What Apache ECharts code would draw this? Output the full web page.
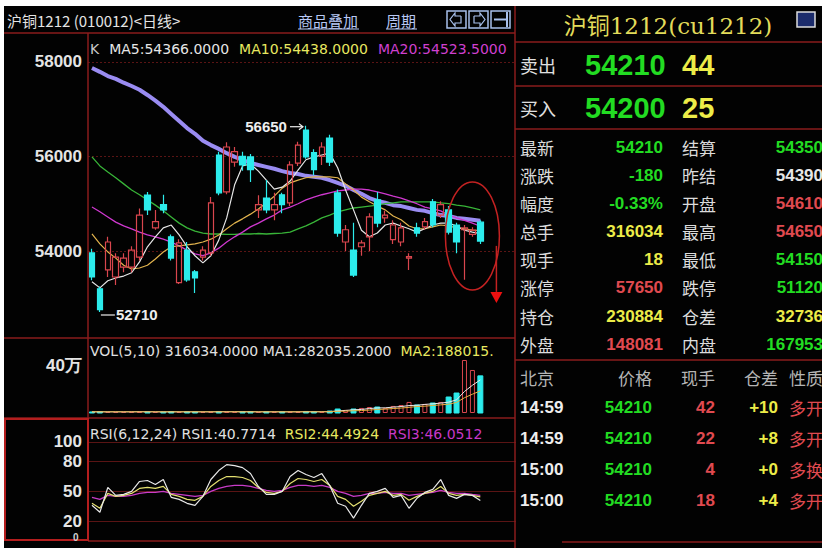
<!DOCTYPE html>
<html><head><meta charset="utf-8">
<script src="https://cdn.jsdelivr.net/npm/echarts@6/dist/echarts.min.js"></script>
<style>
html,body{margin:0;padding:0;background:#fff;}
#bg{position:absolute;left:4px;top:6px;width:818px;height:542px;background:#020202;}
#c{position:absolute;left:0;top:0;width:822px;height:548px;}
</style></head><body><div id="bg"></div><div id="c"></div>
<script>
// ---------- data ----------
const days = ['1','2','3','4','5','6','7','8','9','10','11','12','13','14','15','16','17','18','19','20','21','22','23','24','25','26','27','28','29','30','31','32','33','34','35','36','37','38','39','40','41','42','43','44','45','46','47','48','49','50'];
const padSlots = ['', '', '', ''];
// [open, close, low, high]
const candles = [
 [53960,53450,53380,54050],[53200,52760,52710,53250],[53600,54190,53450,54300],[53450,53870,53280,53950],
 [53660,53850,53550,53950],[53660,54020,53550,54100],[53870,54760,53800,54900],[55185,54870,54760,55250],
 [54490,54620,54450,54870],[54980,54870,54800,55190],[54300,53850,53800,54350],[53330,54170,53300,54250],
 [54020,53390,53350,54190],[53560,53430,53110,53600],[53870,54020,53800,54100],[53960,55020,53900,55140],
 [56030,55230,55180,56100],[55250,56200,55200,56300],[55880,56100,55780,56200],[56000,55820,55700,56100],
 [55990,55720,55460,56050],[54870,54980,54700,55180],[55120,54870,54800,55500],[54870,54980,54650,55230],
 [55190,54980,54800,55230],[55020,55820,54950,55900],[55860,56240,55800,56310],[56560,55990,55950,56650],
 [56080,55720,55600,56150],[56000,56200,55820,56300],[56390,55880,55800,56460],[55230,54380,54300,55300],
 [54190,54450,54000,54550],[54020,53490,53450,54600],[54090,54170,53900,54230],[54300,54720,54000,54800],
 [55080,54590,54500,55250],[54700,54760,54600,54850],[54240,54550,54150,54650],[54190,54490,54100,54600],
 [53850,53880,53600,53950],[54490,54380,54300,54600],[54510,54620,54450,54700],[55040,54550,54500,55100],
 [54760,54980,54700,55050],[54870,54400,54350,54950],[54550,54190,53950,54600],[54450,54490,53390,54550],
 [54350,54440,54300,54500],[54610,54210,54150,54650]
];
const ma5  = [53350,53220,53370,53430,53470,53540,53770,54090,54300,54490,54550,54340,54090,53900,53750,53900,54230,54700,55400,55800,55840,55690,55500,55310,55350,55480,55710,55930,55990,56030,56070,55760,55290,54870,54440,54300,54380,54550,54590,54530,54470,54400,54470,54550,54590,54590,54530,54440,54400,54366];
const ma10 = [54360,54150,53980,53850,53700,53620,53640,53700,53830,53980,54090,54110,54130,54150,54190,54250,54340,54470,54590,54680,54780,54890,55020,55160,55330,55440,55500,55550,55570,55570,55570,55550,55420,55290,55140,55040,54950,54870,54740,54660,54530,54470,54470,54510,54550,54530,54490,54470,54440,54438];
const ma20 = [54930,54830,54720,54610,54530,54470,54400,54340,54300,54250,54190,54110,54020,53940,53900,53960,54060,54190,54300,54400,54510,54590,54680,54760,54870,54930,55000,55080,55140,55190,55230,55270,55290,55310,55310,55290,55250,55210,55160,55120,55060,55000,54930,54890,54850,54760,54700,54650,54590,54524];
const ma40 = [55990,55800,55670,55550,55420,55290,55190,55080,54970,54850,54720,54590,54490,54420,54380,54360,54360,54350,54350,54360,54360,54370,54360,54370,54380,54400,54470,54530,54610,54700,54760,54830,54870,54910,54930,54950,54970,55000,55020,55040,55040,55040,55040,55040,55020,55000,54970,54950,54910,54870];
const ma60 = [57870,57790,57700,57640,57560,57490,57410,57300,57180,57050,56900,56750,56600,56480,56330,56240,56160,56070,55990,55930,55860,55820,55780,55740,55690,55650,55630,55590,55570,55550,55500,55440,55380,55290,55210,55120,55060,55020,54970,54950,54910,54870,54850,54800,54760,54740,54700,54680,54660,54640];
const volumes = [9000,12000,10000,8000,9000,11000,13000,10000,9000,8000,12000,10000,11000,9000,8000,12000,13000,11000,9000,10000,12000,9000,10000,11000,9000,12000,11000,13000,10000,9000,17000,34000,26000,34000,43000,51000,51000,43000,60000,68000,94000,68000,77000,85000,94000,136000,170000,451000,366000,316034];
const volMa5  = [10000,10000,10000,10000,10000,10000,11000,11000,10000,10000,10000,10000,10000,10000,10000,10000,11000,11000,11000,11000,11000,10000,10000,10000,10000,10000,10000,11000,11000,11000,12000,18000,22000,27000,30000,38000,43000,44000,50000,55000,63000,66000,73000,78000,84000,92000,112000,183000,236000,282035];
const volMa10 = [10000,10000,10000,10000,10000,10000,10000,10000,10000,10000,10000,10000,10000,10000,10000,10000,10000,10000,10000,10000,10000,10000,10000,10000,10000,10000,10000,10000,10000,10000,11000,14000,16000,19000,21000,25000,30000,33000,38000,42000,48000,55000,58000,64000,69000,75000,90000,130000,160000,188015];
const rsi1 = [36,29,54,46,47,50,60,61,57,62,44,42,38,36,45,62,71,77,76,74,68,55,47,47,50,65,71,67,64,68,56,38,35,23,36,48,50,53,44,46,33,43,49,52,62,46,43,47,46,40.77];
const rsi2 = [38,33,48,45,46,48,53,54,53,55,47,45,42,41,45,55,61,65,65,64,61,54,49,48,50,58,63,62,60,62,56,45,42,35,40,46,48,50,46,47,41,45,48,50,55,48,46,47,46,44.49];
const rsi3 = [44,42,46,45,45,46,48,49,49,50,48,47,46,45,46,50,53,55,56,56,55,53,51,50,51,54,56,56,55,56,54,50,48,45,46,48,48,49,48,48,46,47,48,49,51,49,48,48,47,46.05];

const priceTicks = [54000, 56000, 58000];
const volTicks = [400000];
const volTickLabels = ['40万'];
const rsiTicks = [20, 50, 80, 100];
const rsiExtraLabel = '0';
const highMark = {index: 27, value: 56650};
const lowMark = {index: 1, value: 52710};

const titleText = '沪铜1212 (010012)<日线>';
const toolLinks = ['商品叠加', '周期'];
const mainLegend = ['K', 'MA5:54366.0000', 'MA10:54438.0000', 'MA20:54523.5000'];
const volLegend = ['VOL(5,10) 316034.0000 MA1:282035.2000', 'MA2:188015.'];
const rsiLegend = ['RSI(6,12,24) RSI1:40.7714', 'RSI2:44.4924', 'RSI3:46.0512'];

const quoteTitle = '沪铜1212(cu1212)';
const bidAsk = [['卖出', '54210', '44'], ['买入', '54200', '25']];
const quoteLeft = [['最新','54210'],['涨跌','-180'],['幅度','-0.33%'],['总手','316034'],['现手','18'],['涨停','57650'],['持仓','230884'],['外盘','148081']];
const quoteRight = [['结算','54350'],['昨结','54390'],['开盘','54610'],['最高','54650'],['最低','54150'],['跌停','51120'],['仓差','32736'],['内盘','167953']];
const tradeHeader = ['北京', '价格', '现手', '仓差', '性质'];
const trades = [['14:59','54210','42','+10','多开'],['14:59','54210','22','+8','多开'],['15:00','54210','4','+0','多换'],['15:00','54210','18','+4','多开']];

// ---------- styles ----------
const C = {
  red:'#d9464e', cyan:'#2cecec', white:'#e6e6e6', ma10:'#e2b44e', ma20:'#cf38cf', ma40:'#38b438', ma60:'#9a8cf2',
  frame:'#8a1c1c', grid:'#5a1414', green:'#22dc22', yellow:'#ecec48', label:'#dcdcdc', gray:'#b4b4b4', vred:'#e04a50'
};
const leftColors = [C.green, C.green, C.green, C.yellow, C.yellow, C.vred, C.yellow, C.vred];
const rightColors = [C.green, C.white, C.vred, C.vred, C.green, C.green, C.yellow, C.green];

const cats = days.concat(padSlots);
const FNUM = '"Liberation Sans", Arial, sans-serif';
const FCJK = '"Noto Sans CJK SC", sans-serif';
const FLEG = '"DejaVu Sans", sans-serif';

const chart = echarts.init(document.getElementById('c'), null, {renderer:'svg', width:822, height:548});

const volData = volumes.map((v, i) => {
  const up = candles[i][1] >= candles[i][0];
  return {value: v, itemStyle: up ? {color:'rgba(0,0,0,0)', borderColor:C.red, borderWidth:1} : {color:C.cyan, borderColor:C.cyan}};
});

function lineS(name, data, color, width, xi, yi) {
  return {name, type:'line', data, xAxisIndex:xi, yAxisIndex:yi, symbol:'none', silent:true,
    lineStyle:{color, width}, z: 3};
}
const xBase = {type:'category', data:cats, boundaryGap:true, axisLine:{show:false}, axisTick:{show:false}, axisLabel:{show:false}, splitLine:{show:false}};
const yLabel = {color:'#e4e4e4', fontWeight:'bold', fontSize:17, fontFamily:FNUM, margin:6};

chart.setOption({
  animation:false,
  backgroundColor:'transparent',
  grid:[
    {left:88, top:34, width:428, height:304},
    {left:88, top:340, width:428, height:73},
    {left:88, top:420, width:428, height:121}
  ],
  xAxis:[Object.assign({gridIndex:0}, xBase), Object.assign({gridIndex:1}, xBase), Object.assign({gridIndex:2}, xBase)],
  yAxis:[
    {gridIndex:0, min:52160, max:58590, axisLine:{show:false},
     axisTick:{show:false, customValues:priceTicks},
     axisLabel:Object.assign({customValues:priceTicks, formatter:(v)=>String(v)}, yLabel),
     splitLine:{show:true, lineStyle:{color:C.grid, type:[2,2], width:1}}},
    {gridIndex:1, min:0, max:621000, axisLine:{show:false},
     axisTick:{show:false, customValues:volTicks},
     axisLabel:Object.assign({customValues:volTicks, formatter:(v)=>volTickLabels[volTicks.indexOf(v)] || ''}, yLabel),
     splitLine:{show:false}},
    {gridIndex:2, min:0, max:122, axisLine:{show:false},
     axisTick:{show:false, customValues:rsiTicks},
     axisLabel:Object.assign({customValues:rsiTicks, formatter:(v)=>String(v)}, yLabel),
     splitLine:{show:true, lineStyle:{color:C.grid, width:1}}}
  ],
  series:[
    lineS('MA60', ma60, C.ma60, 4, 0, 0),
    lineS('MA40', ma40, C.ma40, 1.3, 0, 0),
    lineS('MA20', ma20, C.ma20, 1.3, 0, 0),
    lineS('MA10', ma10, C.ma10, 1.2, 0, 0),
    {type:'candlestick', data:candles, xAxisIndex:0, yAxisIndex:0, barWidth:6, z:4, silent:true,
     itemStyle:{color:'rgba(0,0,0,0)', color0:C.cyan, borderColor:C.red, borderColor0:C.cyan, borderWidth:1.2}},
    lineS('MA5', ma5, C.white, 1.2, 0, 0),
    {type:'bar', data:volData, xAxisIndex:1, yAxisIndex:1, barWidth:5, silent:true},
    lineS('VMA5', volMa5, '#e8e8e8', 1, 1, 1),
    lineS('VMA10', volMa10, '#e6b040', 1, 1, 1),
    lineS('RSI3', rsi3, '#c83cc8', 1.3, 2, 2),
    lineS('RSI2', rsi2, '#e4e070', 1.2, 2, 2),
    lineS('RSI1', rsi1, '#e8e8e8', 1.2, 2, 2)
  ]
});

// ---------- decorations ----------
const mctx = document.createElement('canvas').getContext('2d');
function textW(s, font) { mctx.font = font; return mctx.measureText(s).width; }
function T(x, y, text, fill, font, align, va) {
  align = align || 'left'; va = va || 'middle';
  return {type:'text', x, y, silent:true, z:10,
    style:{text, fill, font, textAlign:align, textVerticalAlign:va, align, verticalAlign:va}};
}
function L(x1, y1, x2, y2, color, w) {
  return {type:'line', silent:true, z:9, shape:{x1, y1, x2, y2}, style:{stroke:color, lineWidth:w || 1}};
}
function R(x, y, w, h, stroke, fill, lw) {
  return {type:'rect', silent:true, z:9, shape:{x, y, width:w, height:h}, style:{stroke, fill:fill || 'none', lineWidth:lw || 1}};
}
const g = [];
function flow(x, y, parts, colors, font, gap) {
  parts.forEach((p, k) => {
    g.push(T(x, y, p, colors[k], font));
    x += textW(p, font) + gap;
  });
}
// frame lines, left panel
g.push(L(4, 33, 515, 33, C.frame, 1.5));
g.push(L(88, 33, 88, 418, C.frame, 1.5));
g.push(L(4, 338, 515, 338, C.frame, 1.5));
g.push(L(4, 418, 515, 418, C.frame, 1.5));
g.push(L(88, 541, 515, 541, C.frame, 1.5));
g.push(R(5, 419, 83, 121, '#b41e1e', null, 2));
g.push(L(515, 6, 515, 548, C.frame, 1.5));
// title bar
g.push(T(7, 20, titleText, '#e4e4e4', '15px ' + FCJK));
g.push(T(298, 20, toolLinks[0], '#b8c8f4', '15px ' + FCJK));
g.push(L(298, 29, 359, 29, '#b8c8f4', 1));
g.push(T(386, 20, toolLinks[1], '#b8c8f4', '15px ' + FCJK));
g.push(L(386, 29, 417, 29, '#b8c8f4', 1));
[447, 469, 491].forEach((bx, k) => {
  g.push(R(bx, 11, 19, 17, '#a8c0ec', null, 1.5));
  if (k === 0) g.push({type:'polyline', silent:true, z:10, shape:{points:[[bx+14,16],[bx+8,16],[bx+8,13],[bx+3,19.5],[bx+8,26],[bx+8,23],[bx+14,23],[bx+14,16]]}, style:{stroke:'#a8c0ec', fill:'none', lineWidth:1.2}});
  if (k === 1) g.push({type:'polyline', silent:true, z:10, shape:{points:[[bx+5,16],[bx+11,16],[bx+11,13],[bx+16,19.5],[bx+11,26],[bx+11,23],[bx+5,23],[bx+5,16]]}, style:{stroke:'#a8c0ec', fill:'none', lineWidth:1.2}});
  if (k === 2) { g.push(L(bx+3, 19.5, bx+16, 19.5, '#a8c0ec', 2)); g.push(L(bx+16, 12, bx+16, 27, '#a8c0ec', 2)); }
});
// legends (flowing left to right)
const LF = '14px ' + FLEG;
flow(90, 49, mainLegend, ['#c8c8c8', '#e6e6e6', '#e8e860', '#d040d0'], LF, 10);
flow(90, 351, volLegend, ['#e0e0e0', '#e8e860'], LF, 9);
flow(90, 434, rsiLegend, ['#e0e0e0', '#e8e860', '#c838c8'], LF, 9);
g.push(T(73, 537, rsiExtraLabel, '#d0d0d0', 'bold 10px ' + FNUM, 'left'));

// high/low marks from data coordinates
const hp = chart.convertToPixel({gridIndex:0}, [highMark.index, highMark.value]);
g.push(T(hp[0] - 19, hp[1] + 1, String(highMark.value), '#eeeeee', 'bold 15px ' + FNUM, 'right'));
g.push(L(hp[0] - 16, hp[1] + 1, hp[0] - 3, hp[1] + 1, '#eeeeee', 1.2));
g.push({type:'polyline', silent:true, z:10, shape:{points:[[hp[0]-7, hp[1]-2],[hp[0]-3, hp[1]+1],[hp[0]-7, hp[1]+4]]}, style:{stroke:'#eeeeee', fill:'none', lineWidth:1.2}});
const lp = chart.convertToPixel({gridIndex:0}, [lowMark.index, lowMark.value]);
g.push(L(lp[0] + 1, lp[1] + 3, lp[0] + 15, lp[1] + 3, '#eeeeee', 1.2));
g.push(T(lp[0] + 16, lp[1] + 3, String(lowMark.value), '#eeeeee', 'bold 15px ' + FNUM));

// red annotation ellipse + arrow around the last candles
const ep = chart.convertToPixel({gridIndex:0}, [47.5, 54320]);
g.push({type:'ellipse', silent:true, z:11, shape:{cx:ep[0], cy:ep[1], rx:27, ry:54}, style:{stroke:'#c42222', fill:'none', lineWidth:1.5}});
g.push(L(ep[0] + 24, ep[1] + 10, ep[0] + 24, ep[1] + 56, '#c42222', 1.5));
g.push({type:'polygon', silent:true, z:11, shape:{points:[[ep[0]+18, ep[1]+56],[ep[0]+30, ep[1]+56],[ep[0]+24, ep[1]+67]]}, style:{fill:'#ee1010'}});

// ---------- right quote panel ----------
g.push(T(668, 26, quoteTitle, '#e2dc5a', '23px "DejaVu Serif", ' + FCJK, 'center'));
g.push(R(797, 12, 18, 15, '#dcdcdc', '#1c2c6c', 1.5));
g.push(L(515, 42, 822, 42, C.frame, 1.5));
g.push(L(515, 86, 822, 86, C.frame, 1.5));
g.push(L(515, 129, 822, 129, C.frame, 1.5));
g.push(L(515, 360, 822, 360, C.frame, 1.5));
g.push(L(562, 542, 822, 542, C.frame, 1.5));
const baY = [65, 108];
bidAsk.forEach((r, i) => {
  g.push(T(520, baY[i], r[0], '#e0e0e0', '18px ' + FCJK));
  g.push(T(585, baY[i], r[1], C.green, 'bold 29px ' + FNUM));
  g.push(T(682, baY[i], r[2], C.yellow, 'bold 29px ' + FNUM));
});
const rowY = [147, 175, 203, 231, 259, 287, 316, 344];
quoteLeft.forEach((r, i) => {
  g.push(T(520, rowY[i], r[0], C.label, '17px ' + FCJK));
  g.push(T(663, rowY[i], r[1], leftColors[i], 'bold 17px ' + FNUM, 'right'));
});
quoteRight.forEach((r, i) => {
  g.push(T(682, rowY[i], r[0], C.label, '17px ' + FCJK));
  g.push(T(823, rowY[i], r[1], rightColors[i], 'bold 17px ' + FNUM, 'right'));
});
const colX = [520, 652, 715, 778, 789];
const colAlign = ['left', 'right', 'right', 'right', 'left'];
tradeHeader.forEach((h, k) => g.push(T(colX[k], 377, h, C.gray, '17px ' + FCJK, colAlign[k])));
const tradeY = [407, 438, 469, 500];
const tradeColors = ['#eeeeee', C.green, C.vred, C.yellow, C.vred];
trades.forEach((r, i) => {
  r.forEach((v, k) => {
    const f = k === 4 ? '17px ' + FCJK : 'bold 17px ' + FNUM;
    g.push(T(colX[k], tradeY[i], v, tradeColors[k], f, colAlign[k]));
  });
});

chart.setOption({graphic:{elements:g}});
</script>
</body></html>
